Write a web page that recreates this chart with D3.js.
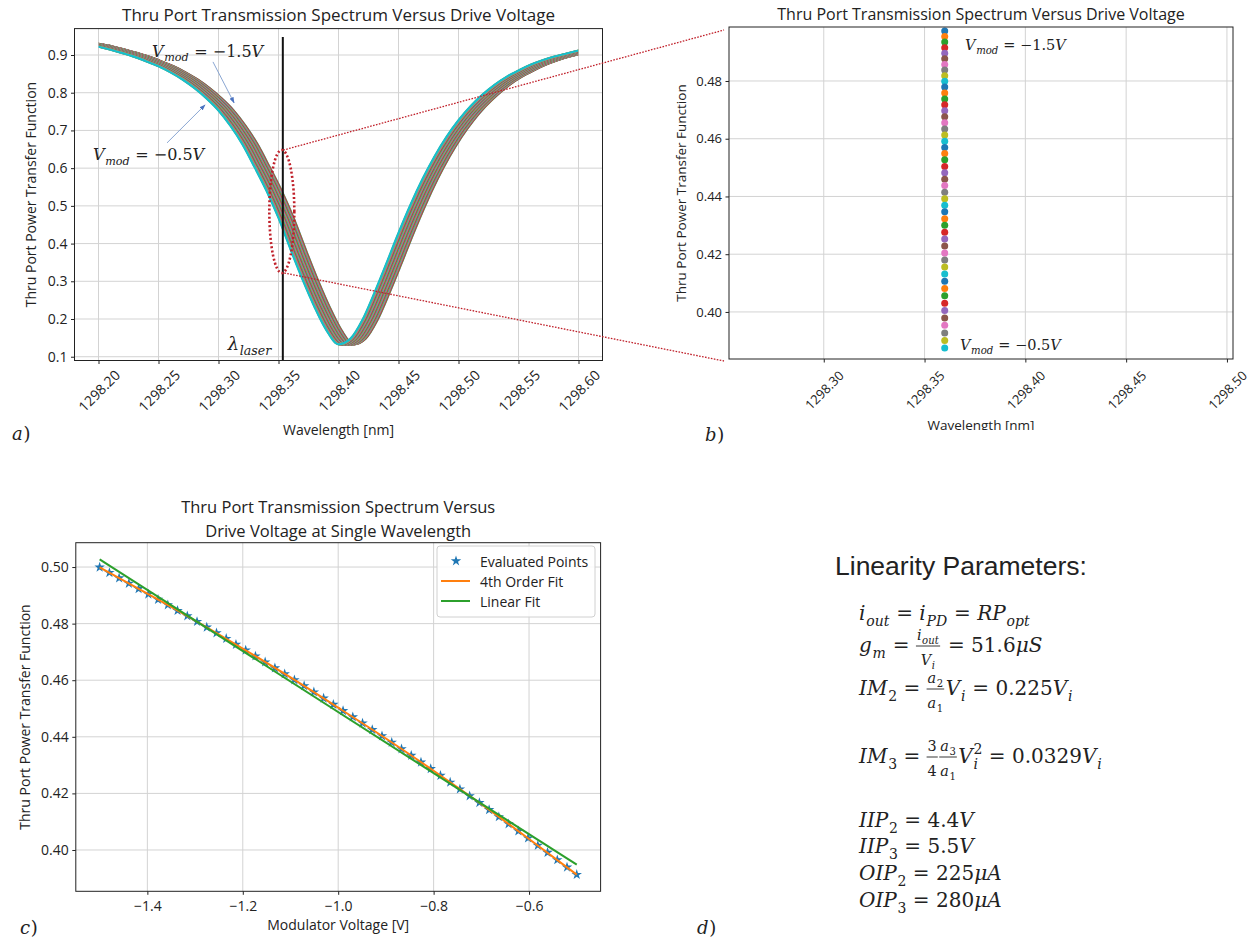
<!DOCTYPE html>
<html><head><meta charset="utf-8">
<script src="https://cdn.jsdelivr.net/npm/d3@7"></script>
<style>
body{margin:0;background:#fff}
svg{display:block}
text{font-family:"Open Sans",sans-serif;fill:#222}
text.math{font-family:"DejaVu Serif",serif}
</style></head><body>
<svg id="c" width="1255" height="941"></svg>
<script>
// ---------------- data ----------------
const wavelengths = [1298.18,1298.19,1298.20,1298.21,1298.22,1298.23,1298.24,1298.25,1298.26,1298.27,1298.28,1298.29,1298.30,1298.31,1298.32,1298.33,1298.34,1298.35,1298.36,1298.37,1298.38,1298.39,1298.40,1298.41,1298.42,1298.43,1298.44,1298.45,1298.46,1298.47,1298.48,1298.49,1298.50,1298.51,1298.52,1298.53,1298.54,1298.55,1298.56,1298.57,1298.58,1298.59,1298.60];
const baseTransmission = [0.934,0.928,0.922,0.914,0.905,0.895,0.883,0.870,0.854,0.835,0.812,0.785,0.753,0.712,0.663,0.603,0.540,0.468,0.385,0.305,0.232,0.170,0.133,0.148,0.198,0.270,0.348,0.428,0.503,0.571,0.631,0.683,0.727,0.764,0.795,0.821,0.842,0.859,0.874,0.886,0.896,0.904,0.912];
const curveShifts = [0.01260,0.01234,0.01209,0.01183,0.01157,0.01131,0.01106,0.01080,0.01054,0.01029,0.01003,0.00977,0.00951,0.00926,0.00900,0.00874,0.00849,0.00823,0.00797,0.00771,0.00746,0.00720,0.00694,0.00669,0.00643,0.00617,0.00591,0.00566,0.00540,0.00514,0.00489,0.00463,0.00437,0.00411,0.00386,0.00360,0.00334,0.00309,0.00283,0.00257,0.00231,0.00206,0.00180,0.00154,0.00129,0.00103,0.00077,0.00051,0.00026,0.00000];
const modVoltages = [-1.5,-1.4796,-1.4592,-1.4388,-1.4184,-1.3980,-1.3776,-1.3571,-1.3367,-1.3163,-1.2959,-1.2755,-1.2551,-1.2347,-1.2143,-1.1939,-1.1735,-1.1531,-1.1327,-1.1122,-1.0918,-1.0714,-1.0510,-1.0306,-1.0102,-0.9898,-0.9694,-0.9490,-0.9286,-0.9082,-0.8878,-0.8673,-0.8469,-0.8265,-0.8061,-0.7857,-0.7653,-0.7449,-0.7245,-0.7041,-0.6837,-0.6633,-0.6429,-0.6224,-0.6020,-0.5816,-0.5612,-0.5408,-0.5204,-0.5];
const evaluatedPoints = [0.4999,0.4980,0.4961,0.4942,0.4923,0.4904,0.4885,0.4866,0.4846,0.4827,0.4807,0.4787,0.4767,0.4747,0.4726,0.4706,0.4685,0.4664,0.4643,0.4622,0.4601,0.4580,0.4558,0.4536,0.4514,0.4492,0.4470,0.4448,0.4425,0.4403,0.4380,0.4357,0.4334,0.4310,0.4287,0.4263,0.4239,0.4215,0.4191,0.4167,0.4142,0.4117,0.4092,0.4067,0.4042,0.4016,0.3991,0.3965,0.3939,0.3913];
const pointsAtLaser = [0.4973,0.4954,0.4935,0.4915,0.4896,0.4877,0.4857,0.4838,0.4818,0.4799,0.4779,0.4758,0.4738,0.4718,0.4697,0.4676,0.4655,0.4634,0.4613,0.4591,0.4570,0.4549,0.4527,0.4504,0.4482,0.4460,0.4438,0.4415,0.4392,0.4370,0.4347,0.4323,0.4300,0.4276,0.4253,0.4228,0.4204,0.4180,0.4156,0.4131,0.4106,0.4081,0.4056,0.4030,0.4005,0.3979,0.3954,0.3927,0.3901,0.3875];
const fitVoltages = [-1.5,-1.4,-1.3,-1.2,-1.1,-1.0,-0.9,-0.8,-0.7,-0.6,-0.5];
const fit4thOrder = [0.4999,0.4906,0.4811,0.4712,0.4610,0.4503,0.4394,0.4280,0.4162,0.4039,0.3913];
const linearFitVoltages = [-1.5,-0.5];
const linearFit = [0.5027,0.3948];
const laserWavelength = 1298.3536;
const sampleWavelength = 1298.36;
const ticksAx = [1298.20,1298.25,1298.30,1298.35,1298.40,1298.45,1298.50,1298.55,1298.60];
const ticksAy = [0.1,0.2,0.3,0.4,0.5,0.6,0.7,0.8,0.9];
const ticksBx = [1298.30,1298.35,1298.40,1298.45,1298.50];
const ticksBy = [0.40,0.42,0.44,0.46,0.48];
const ticksCx = [-1.4,-1.2,-1.0,-0.8,-0.6];
const ticksCy = [0.40,0.42,0.44,0.46,0.48,0.50];
const tab10 = ["#1f77b4","#ff7f0e","#2ca02c","#d62728","#9467bd","#8c564b","#e377c2","#7f7f7f","#bcbd22","#17becf"];

// ---------------- helpers ----------------
const NB = "\u00a0";
const svg = d3.select("#c");
const defs = svg.append("defs");
defs.append("filter").attr("id", "soft").attr("x", "-5%").attr("y", "-5%").attr("width", "110%").attr("height", "110%")
  .append("feGaussianBlur").attr("stdDeviation", 0.45);

function grid(g, x, y, xt, yt) {
  const [y0, y1] = y.range(), [x0, x1] = x.range();
  g.selectAll("line.gx").data(xt).join("line").attr("class","gx")
    .attr("x1", d => x(d)).attr("x2", d => x(d)).attr("y1", y1).attr("y2", y0)
    .attr("stroke", "#d3d3d3").attr("stroke-width", 1);
  g.selectAll("line.gy").data(yt).join("line").attr("class","gy")
    .attr("y1", d => y(d)).attr("y2", d => y(d)).attr("x1", x0).attr("x2", x1)
    .attr("stroke", "#d3d3d3").attr("stroke-width", 1);
}
function axes(g, x, y, xt, yt, xf, yf, rotOff, fs) {
  const [y0, y1] = y.range(), [x0, x1] = x.range();
  const ax = g.append("g").attr("transform", `translate(0,${y0})`)
    .call(d3.axisBottom(x).tickValues(xt).tickFormat(xf).tickSizeInner(3.5).tickSizeOuter(0).tickPadding(rotOff ? 3 : 6));
  const ay = g.append("g").attr("transform", `translate(${x0},0)`)
    .call(d3.axisLeft(y).tickValues(yt).tickFormat(yf).tickSizeInner(3.5).tickSizeOuter(0).tickPadding(3.5));
  [ax, ay].forEach(a => {
    a.select(".domain").remove();
    a.selectAll(".tick line").attr("stroke", "#222");
    a.selectAll(".tick text").style("font-size", fs + "px").attr("fill", "#222");
  });
  if (rotOff) {
    ax.selectAll(".tick text").attr("y", null).attr("dy", null)
      .attr("text-anchor", "middle").attr("dominant-baseline", "central")
      .attr("transform", `translate(0,${rotOff}) rotate(-45)`);
  }
  g.append("rect").attr("x", x0).attr("y", y1).attr("width", x1 - x0).attr("height", y0 - y1)
    .attr("fill", "none").attr("stroke", "#222").attr("stroke-width", 1);
}
function put(g, x, y, str, size, italic) {
  const t = g.append("text").attr("class", "math").attr("x", x).attr("y", y)
    .style("font-size", size + "px").style("font-style", italic ? "italic" : "normal")
    .text(str.replace(/ /g, NB));
  return t.node().getComputedTextLength() + (italic ? size * 0.04 : 0);
}
function run(g, x, y, toks, size) {
  let cx = x;
  for (const tk of toks) {
    if (tk.frac) {
      const fs = size * 0.72;
      const gn = g.append("g"), gd = g.append("g");
      const wn = run(gn, 0, y - size * 0.62, tk.frac[0], fs);
      const wd = run(gd, 0, y + size * 0.66, tk.frac[1], fs);
      const w = Math.max(wn, wd) + 2;
      gn.attr("transform", `translate(${cx + (w - wn) / 2},0)`);
      gd.attr("transform", `translate(${cx + (w - wd) / 2},0)`);
      g.append("line").attr("x1", cx).attr("x2", cx + w).attr("y1", y - size * 0.3).attr("y2", y - size * 0.3)
        .attr("stroke", "#222").attr("stroke-width", 0.9);
      cx += w + 1.5;
    } else if (tk.subsup) {
      const a = put(g, cx, y + size * 0.28, tk.subsup[0], size * 0.7, true);
      const b = put(g, cx, y - size * 0.45, tk.subsup[1], size * 0.7, false);
      cx += Math.max(a, b);
    } else if (tk.sub !== undefined) {
      cx += put(g, cx, y + size * 0.28, tk.sub, size * 0.7, !!tk.it);
    } else if (tk.i !== undefined) {
      cx += put(g, cx, y, tk.i, size, true);
    } else {
      cx += put(g, cx, y, tk.r, size, false);
    }
  }
  return cx - x;
}
function panelLabel(x, y, letter) {
  const g = svg.append("g");
  run(g, x, y, [{i: letter}, {r: ")"}], 18);
}

// ---------------- panel a ----------------
const xA = d3.scaleLinear().domain([1298.18, 1298.62]).range([74.5, 602.5]);
const yA = d3.scaleLinear().domain([0.09, 0.97]).range([360.5, 28.6]);
const gA = svg.append("g");
grid(gA, xA, yA, ticksAx, ticksAy);
defs.append("clipPath").attr("id", "clipA").append("rect")
  .attr("x", xA(1298.20)).attr("y", yA.range()[1]).attr("width", xA(1298.60) - xA(1298.20)).attr("height", yA.range()[0] - yA.range()[1]);
const curvesA = gA.append("g").attr("clip-path", "url(#clipA)").append("g").attr("filter", "url(#soft)");
const lineA = d3.line().curve(d3.curveMonotoneX);
curveShifts.forEach((s, i) => {
  curvesA.append("path")
    .attr("d", lineA(wavelengths.map((w, j) => [xA(w + s), yA(baseTransmission[j])])))
    .attr("fill", "none").attr("stroke", tab10[i % 10]).attr("stroke-width", 2.2);
});
// laser line
gA.append("line").attr("x1", xA(laserWavelength)).attr("x2", xA(laserWavelength))
  .attr("y1", yA(0.948)).attr("y2", yA.range()[0]).attr("stroke", "#111").attr("stroke-width", 2);
axes(gA, xA, yA, ticksAx, ticksAy, d3.format(".2f"), d3.format(".1f"), 30, 14);
gA.append("text").attr("x", (xA.range()[0] + xA.range()[1]) / 2).attr("y", 21).attr("text-anchor", "middle")
  .style("font-size", "17px").text("Thru Port Transmission Spectrum Versus Drive Voltage");
gA.append("text").attr("x", (xA.range()[0] + xA.range()[1]) / 2).attr("y", 435).attr("text-anchor", "middle")
  .style("font-size", "14px").text("Wavelength [nm]");
gA.append("text").attr("transform", `translate(30,${(yA.range()[0] + yA.range()[1]) / 2}) rotate(-90)`)
  .attr("text-anchor", "middle").attr("dominant-baseline", "central")
  .style("font-size", "14px").text("Thru Port Power Transfer Function");
// annotations a
defs.append("marker").attr("id", "arr").attr("viewBox", "0 0 10 10").attr("refX", 9).attr("refY", 5)
  .attr("markerWidth", 7).attr("markerHeight", 7).attr("orient", "auto")
  .append("path").attr("d", "M0,1.5 L10,5 L0,8.5 Z").attr("fill", "#4a72c0");
gA.append("line").attr("x1", xA(1298.2954)).attr("y1", yA(0.8817)).attr("x2", xA(1298.313)).attr("y2", yA(0.773))
  .attr("stroke", "#7d9ccd").attr("stroke-width", 0.9).attr("marker-end", "url(#arr)");
gA.append("line").attr("x1", xA(1298.2571)).attr("y1", yA(0.667)).attr("x2", xA(1298.2888)).attr("y2", yA(0.7677))
  .attr("stroke", "#7d9ccd").attr("stroke-width", 0.9).attr("marker-end", "url(#arr)");
run(gA.append("g"), xA(1298.2446), yA(0.8947), [{i: "V"}, {sub: "mod", it: true}, {r: " = −1.5"}, {i: "V"}], 16);
run(gA.append("g"), xA(1298.1954), yA(0.621), [{i: "V"}, {sub: "mod", it: true}, {r: " = −0.5"}, {i: "V"}], 16);
const lamG = gA.append("g");
const lw = run(lamG, 0, yA(0.117), [{i: "λ"}, {sub: "laser", it: true}], 18);
lamG.attr("transform", `translate(${xA(laserWavelength) - 11 - lw},0)`);
panelLabel(12, 440, "a");

// ---------------- panel b ----------------
const xB = d3.scaleLinear().domain([1298.253, 1298.503]).range([729, 1233]);
const yB = d3.scaleLinear().domain([0.3837, 0.4987]).range([359, 27]);
const gB = svg.append("g");
grid(gB, xB, yB, ticksBx, ticksBy);
gB.selectAll("circle.pt").data(pointsAtLaser).join("circle").attr("class", "pt")
  .attr("cx", xB(sampleWavelength)).attr("cy", d => yB(d)).attr("r", 3.5)
  .attr("fill", (d, i) => tab10[i % 10]);
axes(gB, xB, yB, ticksBx, ticksBy, d3.format(".2f"), d3.format(".2f"), 31, 13);
gB.append("text").attr("x", (xB.range()[0] + xB.range()[1]) / 2).attr("y", 20).attr("text-anchor", "middle")
  .style("font-size", "16px").text("Thru Port Transmission Spectrum Versus Drive Voltage");
defs.append("clipPath").attr("id", "clipB").append("rect").attr("x", 600).attr("y", 380).attr("width", 700).attr("height", 50);
gB.append("text").attr("x", (xB.range()[0] + xB.range()[1]) / 2).attr("y", 430).attr("text-anchor", "middle")
  .attr("clip-path", "url(#clipB)").style("font-size", "13.5px").text("Wavelength [nm]");
gB.append("text").attr("transform", `translate(681,${(yB.range()[0] + yB.range()[1]) / 2}) rotate(-90)`)
  .attr("text-anchor", "middle").attr("dominant-baseline", "central")
  .style("font-size", "13.5px").text("Thru Port Power Transfer Function");
run(gB.append("g"), xB(1298.3701), yB(0.4907), [{i: "V"}, {sub: "mod", it: true}, {r: " = −1.5"}, {i: "V"}], 14.5);
run(gB.append("g"), xB(1298.3676), yB(0.3868), [{i: "V"}, {sub: "mod", it: true}, {r: " = −0.5"}, {i: "V"}], 14.5);
panelLabel(705, 441, "b");

// ---------------- overlay: ellipse + connectors ----------------
const ov = svg.append("g");
const ecx = xA(laserWavelength) - 1, ecy = yA(0.485);
const ery = (yA(0.322) - yA(0.648)) / 2;
ov.append("ellipse").attr("cx", ecx).attr("cy", ecy).attr("rx", 12.5).attr("ry", ery)
  .attr("fill", "none").attr("stroke", "#c0202a").attr("stroke-width", 2.6).attr("stroke-dasharray", "2 2.2");
ov.append("line").attr("x1", ecx + 1.5).attr("y1", yA(0.648)).attr("x2", xB.range()[0] - 5).attr("y2", yB.range()[1] + 3)
  .attr("stroke", "#c0202a").attr("stroke-width", 1.3).attr("stroke-dasharray", "1.6 1.4");
ov.append("line").attr("x1", ecx + 2.5).attr("y1", yA(0.322)).attr("x2", xB.range()[0] - 5).attr("y2", yB.range()[0] + 2)
  .attr("stroke", "#c0202a").attr("stroke-width", 1.3).attr("stroke-dasharray", "1.6 1.4");

// ---------------- panel c ----------------
const xC = d3.scaleLinear().domain([-1.55, -0.45]).range([75.8, 600.6]);
const yC = d3.scaleLinear().domain([0.3854, 0.5086]).range([891.3, 542.7]);
const gC = svg.append("g");
grid(gC, xC, yC, ticksCx, ticksCy);
const star = d3.symbol(d3.symbolStar).size(34)();
gC.selectAll("path.st").data(evaluatedPoints).join("path").attr("class", "st")
  .attr("d", star).attr("transform", (d, i) => `translate(${xC(modVoltages[i])},${yC(d)})`)
  .attr("fill", "#1f77b4");
gC.append("path").attr("d", d3.line().curve(d3.curveNatural)(fitVoltages.map((v, i) => [xC(v), yC(fit4thOrder[i])])))
  .attr("fill", "none").attr("stroke", "#ff7f0e").attr("stroke-width", 2);
gC.append("path").attr("d", d3.line()(linearFitVoltages.map((v, i) => [xC(v), yC(linearFit[i])])))
  .attr("fill", "none").attr("stroke", "#2ca02c").attr("stroke-width", 2);
axes(gC, xC, yC, ticksCx, ticksCy, d3.format(".1f"), d3.format(".2f"), 0, 14);
const tcx = (xC.range()[0] + xC.range()[1]) / 2;
gC.append("text").attr("x", tcx).attr("y", 513).attr("text-anchor", "middle").style("font-size", "16.5px").text("Thru Port Transmission Spectrum Versus");
gC.append("text").attr("x", tcx).attr("y", 536.5).attr("text-anchor", "middle").style("font-size", "16.5px").text("Drive Voltage at Single Wavelength");
gC.append("text").attr("x", tcx).attr("y", 930).attr("text-anchor", "middle").style("font-size", "14px").text("Modulator Voltage [V]");
gC.append("text").attr("transform", `translate(24,${(yC.range()[0] + yC.range()[1]) / 2}) rotate(-90)`)
  .attr("text-anchor", "middle").attr("dominant-baseline", "central")
  .style("font-size", "14px").text("Thru Port Power Transfer Function");
// legend
const lg = gC.append("g");
lg.append("rect").attr("x", 437).attr("y", 546).attr("width", 158).attr("height", 71).attr("rx", 3)
  .attr("fill", "#fff").attr("fill-opacity", 0.85).attr("stroke", "#d0d0d0");
const legItems = ["Evaluated Points", "4th Order Fit", "Linear Fit"];
legItems.forEach((t, i) => {
  const ly = 561 + i * 20;
  if (i === 0) lg.append("path").attr("d", star).attr("transform", `translate(456,${ly})`).attr("fill", "#1f77b4");
  else lg.append("line").attr("x1", 441).attr("x2", 470).attr("y1", ly).attr("y2", ly)
    .attr("stroke", i === 1 ? "#ff7f0e" : "#2ca02c").attr("stroke-width", 2);
  lg.append("text").attr("x", 480).attr("y", ly).attr("dominant-baseline", "central").style("font-size", "14px").text(t);
});
panelLabel(20, 934, "c");

// ---------------- panel d ----------------
const gD = svg.append("g");
gD.append("text").attr("x", 835).attr("y", 575).style("font-family", "'Liberation Sans',Arial,sans-serif")
  .style("font-size", "26.5px").attr("fill", "#111").text("Linearity Parameters:");
const eqX = 859, eqS = 20;
const eqs = [
  [620, [{i: "i"}, {sub: "out", it: true}, {r: " = "}, {i: "i"}, {sub: "PD", it: true}, {r: " = "}, {i: "RP"}, {sub: "opt", it: true}]],
  [652, [{i: "g"}, {sub: "m", it: true}, {r: " = "}, {frac: [[{i: "i"}, {sub: "out", it: true}], [{i: "V"}, {sub: "i", it: true}]]}, {r: " = 51.6"}, {i: "μS"}]],
  [695, [{i: "IM"}, {sub: "2"}, {r: " = "}, {frac: [[{i: "a"}, {sub: "2"}], [{i: "a"}, {sub: "1"}]]}, {i: "V"}, {sub: "i", it: true}, {r: " = 0.225"}, {i: "V"}, {sub: "i", it: true}]],
  [763, [{i: "IM"}, {sub: "3"}, {r: " = "}, {frac: [[{r: "3"}], [{r: "4"}]]}, {frac: [[{i: "a"}, {sub: "3"}], [{i: "a"}, {sub: "1"}]]}, {i: "V"}, {subsup: ["i", "2"]}, {r: " = 0.0329"}, {i: "V"}, {sub: "i", it: true}]],
  [827, [{i: "IIP"}, {sub: "2"}, {r: " = 4.4"}, {i: "V"}]],
  [853, [{i: "IIP"}, {sub: "3"}, {r: " = 5.5"}, {i: "V"}]],
  [880, [{i: "OIP"}, {sub: "2"}, {r: " = 225"}, {i: "μA"}]],
  [907, [{i: "OIP"}, {sub: "3"}, {r: " = 280"}, {i: "μA"}]]
];
eqs.forEach(([y, toks]) => run(gD.append("g"), eqX, y, toks, eqS));
panelLabel(697, 934, "d");
</script>
</body></html>
